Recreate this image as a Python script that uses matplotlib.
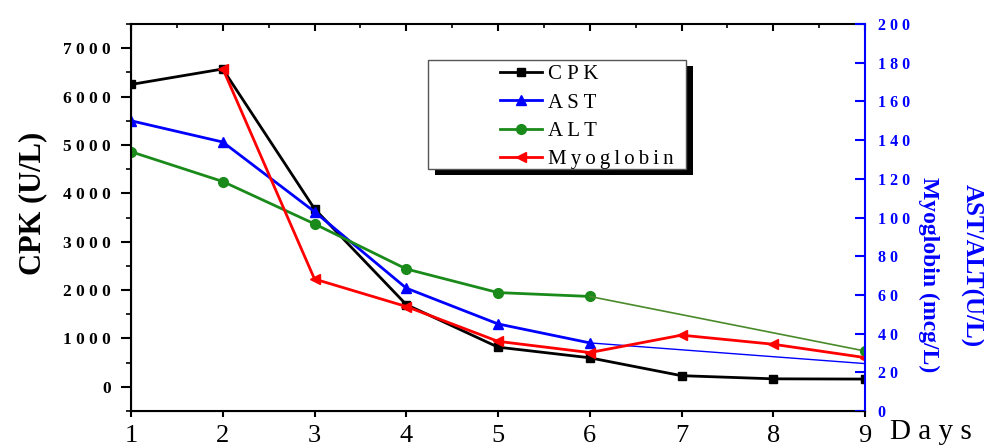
import matplotlib
matplotlib.use("Agg")
import matplotlib.pyplot as plt
from matplotlib.ticker import MultipleLocator, FuncFormatter, FixedLocator
from matplotlib.patches import Rectangle

plt.rcParams['font.family'] = ['Liberation Serif', 'DejaVu Serif']

# ---- data ----
days = [1, 2, 3, 4, 5, 6, 7, 8, 9]
cpk = [6250, 6570, 3680, 1700, 820, 600, 230, 165, 160]
ast_days = [1, 2, 3, 4, 5, 6, 9]
ast = [150, 139, 103, 63.5, 45, 35.2, 24.5]
alt_days = [1, 2, 3, 4, 5, 6, 9]
alt = [134, 118.6, 96.7, 73.4, 61.2, 59.2, 31]
myo_days = [2, 3, 4, 5, 6, 7, 8, 9]
myo = [177, 68.2, 54, 36, 30.2, 39.2, 34.5, 27.6]

series_names = ["CPK", "AST", "ALT", "Myoglobin"]
left_ticks = [0, 1000, 2000, 3000, 4000, 5000, 6000, 7000]
right_ticks = [0, 20, 40, 60, 80, 100, 120, 140, 160, 180, 200]
x_ticks = [1, 2, 3, 4, 5, 6, 7, 8, 9]


def spaced(s, sep=" "):
    return sep.join(s)


fig = plt.figure(figsize=(9.84, 4.47), dpi=100)
ax = fig.add_axes([131 / 984, 36 / 447, 734 / 984, 387 / 447])
ax2 = ax.twinx()

BLUE = "#0000ff"
GREEN = "#1a8a1a"
RED = "#ff0000"

# left axis: CPK
l_cpk, = ax.plot(days, cpk, color="black", lw=2.0, marker="s", ms=6,
                 label=spaced(series_names[0]), zorder=3)

# right axis: AST, ALT, Myoglobin
l_ast, = ax2.plot(ast_days[:-1], ast[:-1], color=BLUE, lw=2.0, marker="^", ms=7,
                  label=spaced(series_names[1]))
ax2.plot(ast_days[-2:], ast[-2:], color=BLUE, lw=1.0)
l_alt, = ax2.plot(alt_days[:-1], alt[:-1], color=GREEN, lw=2.0, marker="o", ms=7,
                  label=spaced(series_names[2]))
ax2.plot(alt_days[-2:], alt[-2:], color="#4a8a2a", lw=1.2)
ax2.plot(alt_days[-1:], alt[-1:], color=GREEN, marker="o", ms=7, ls="none")
l_myo, = ax2.plot(myo_days, myo, color=RED, lw=2.0, marker="<", ms=7,
                  label=spaced(series_names[3], "\u2009"))

ax.set_xlim(1, 9)
ax.set_ylim(-500, 7500)
ax2.set_ylim(0, 200)

# x axis
ax.xaxis.set_major_locator(FixedLocator(x_ticks))
ax.tick_params(axis="x", direction="out", length=4.5, width=1.5, labelsize=19, pad=5.5)
sec = ax.secondary_xaxis("top")
sec.xaxis.set_major_locator(FixedLocator(x_ticks))
sec.xaxis.set_minor_locator(MultipleLocator(0.5))
sec.tick_params(axis="x", which="major", direction="in", length=5, width=1.5, labeltop=False)
sec.tick_params(axis="x", which="minor", direction="in", length=3, width=1.2)
sec.spines["top"].set_linewidth(1.5)

# left axis
ax.yaxis.set_major_locator(FixedLocator(left_ticks))
ax.yaxis.set_minor_locator(MultipleLocator(500))
ax.yaxis.set_major_formatter(FuncFormatter(lambda v, p: spaced(str(int(v)))))
ax.tick_params(axis="y", which="major", direction="out", length=7, width=1.5, labelsize=12.5, pad=7.5)
ax.tick_params(axis="y", which="minor", direction="out", length=3.6, width=1.2)
for lab in ax.get_yticklabels():
    lab.set_fontweight("bold")

# right axis
ax2.yaxis.set_major_locator(FixedLocator(right_ticks))
ax2.yaxis.set_major_formatter(FuncFormatter(lambda v, p: spaced(str(int(v)))))
ax2.tick_params(axis="y", which="major", direction="in", length=7, width=1.5,
                colors=BLUE, labelsize=11.5, pad=9)
for lab in ax2.get_yticklabels():
    lab.set_fontweight("bold")
ax2.spines["right"].set_color(BLUE)
ax2.spines["right"].set_linewidth(1.5)
for s in ["left", "bottom"]:
    ax.spines[s].set_linewidth(1.5)
ax.spines["right"].set_visible(False)
ax.spines["top"].set_visible(False)
ax2.spines["top"].set_visible(False)

# axis titles
fig.text(33 / 984, 1 - 203 / 447, "CPK (U/L)", rotation=90, ha="center", va="center",
         fontsize=22, fontweight="bold")
fig.text(929 / 984, 1 - 275 / 447, "Myoglobin (mcg/L)", rotation=-90, ha="center",
         va="center", fontsize=17, fontweight="bold", color=BLUE)
fig.text(971 / 984, 1 - 266 / 447, "AST/ALT(U/L)", rotation=-90, ha="center",
         va="center", fontsize=18, fontweight="bold", color=BLUE)
fig.text(890 / 984, 2 / 447, "D a y s", ha="left", va="bottom", fontsize=21)

# legend box with black drop shadow
bx0, by0, bw, bh = 0.405, 0.625, 0.351, 0.282
ax2.add_patch(Rectangle((bx0 + 7 / 734, by0 - 6 / 387), bw, bh, transform=ax2.transAxes,
                        facecolor="black", edgecolor="none", zorder=8, clip_on=False))
ax2.add_patch(Rectangle((bx0, by0), bw, bh, transform=ax2.transAxes,
                        facecolor="white", edgecolor="#555555", lw=1.0, zorder=9,
                        clip_on=False))
leg = ax2.legend(handles=[l_cpk, l_ast, l_alt, l_myo], loc="upper left",
                 bbox_to_anchor=(0.503, 0.895), fontsize=15, frameon=False,
                 handlelength=2.0, handletextpad=0.3, labelspacing=0.42,
                 borderpad=0, borderaxespad=0)
leg.set_zorder(10)

fig.savefig("out.png", dpi=100)
